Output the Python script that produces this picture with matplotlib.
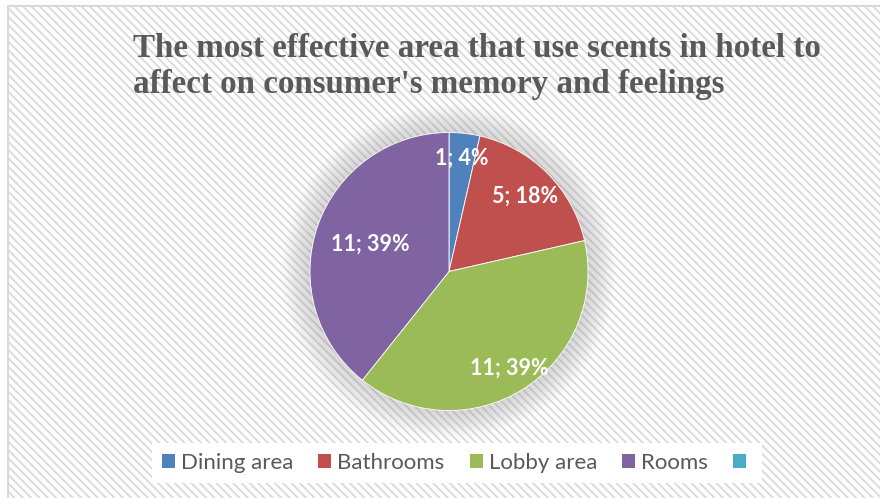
import matplotlib.pyplot as plt
import numpy as np
from matplotlib.patches import Rectangle, Circle, Patch

# dades del gràfic
categories = ['Dining area', 'Bathrooms', 'Lobby area', 'Rooms', '']
valors = [1, 5, 11, 11]
colors = ['#4F81BD', '#C0504D', '#9BBB59', '#8064A2', '#4BACC6']
dist_etiquetes = [0.82, 0.77, 0.82, 0.60]

titol = "The most effective area that use scents in hotel to\naffect on consumer's memory and feelings"

W, H = 880, 498
plt.rcParams['hatch.linewidth'] = 1.3
plt.rcParams['hatch.color'] = '#f1f1f1'

fig = plt.figure(figsize=(W / 100, H / 100), dpi=100)
fig.patch.set_facecolor('white')

# fons ratllat amb vora grisa
fons = Rectangle((8 / W, -0.1), 1.2, 1 - 6 / H + 0.1, transform=fig.transFigure,
                 facecolor='white', edgecolor='#d9d9d9', linewidth=1.5,
                 hatch='\\\\\\\\', zorder=-5)
fig.patches.append(fons)

# pastís
cx, cy, R = 449, 271.5, 139
marge = 175
ax = fig.add_axes([(cx - marge) / W, (H - cy - marge) / H, 2 * marge / W, 2 * marge / H])
ax.set_zorder(1)
lim = marge / R
ax.axis('off')

# ombra suau al voltant
for r in np.linspace(1.2, 1.0, 16):
    ax.add_patch(Circle((0, 0), r, facecolor='#909090', alpha=0.022, edgecolor='none', zorder=1))

wedges, _ = ax.pie(valors, colors=colors[:4], startangle=90, counterclock=False,
                   radius=1, wedgeprops=dict(edgecolor='white', linewidth=0.6, zorder=2))

total = sum(valors)
for w, v, d in zip(wedges, valors, dist_etiquetes):
    ang = np.radians((w.theta1 + w.theta2) / 2)
    ax.text(d * np.cos(ang), d * np.sin(ang), f"{v}; {round(v / total * 100)}%",
            ha='center', va='center', color='white', fontsize=15.5, fontweight='bold',
            family='Lato', zorder=3)
ax.set_xlim(-lim, lim)
ax.set_ylim(-lim, lim)

# títol
fig.text(133 / W, 1 - 33 / H, titol, ha='left', va='top', family='Liberation Serif',
         fontweight='bold', fontsize=23.8, color='#595959', linespacing=1.19, zorder=2)

# llegenda
handles = [Patch(facecolor=c, edgecolor='none') for c in colors]
leg = fig.legend(handles, categories, loc='center', bbox_to_anchor=(457 / W, 1 - 462.5 / H),
                 ncol=5, frameon=True, fancybox=False, facecolor='white', edgecolor='none',
                 framealpha=1, handlelength=0.59, handleheight=0.59, handletextpad=0.27,
                 columnspacing=1.13, borderpad=0.45, prop=dict(family='Lato', size=16))
leg.set_zorder(3)
for t in leg.get_texts():
    t.set_color('#595959')

plt.savefig('out.png', dpi=100)
